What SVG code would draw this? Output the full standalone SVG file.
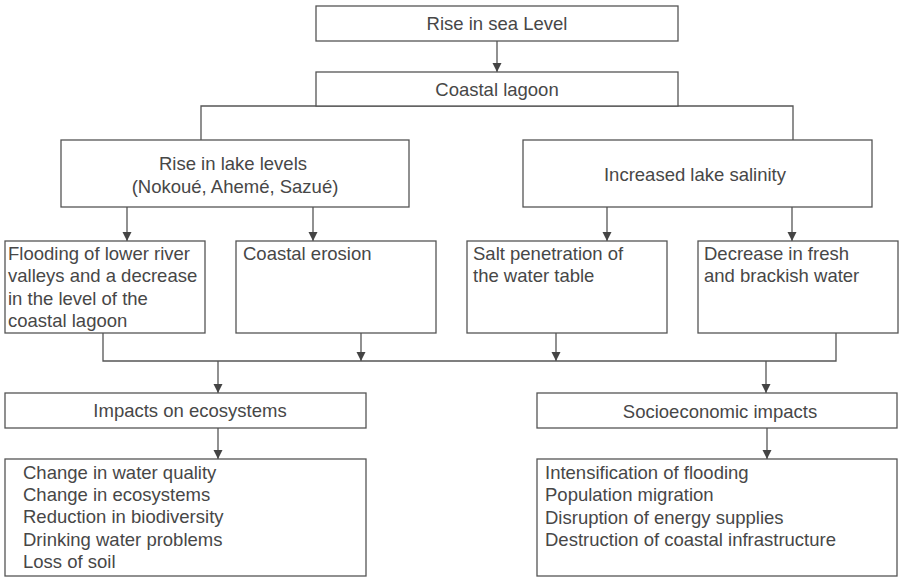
<svg xmlns="http://www.w3.org/2000/svg" width="901" height="577" viewBox="0 0 901 577">
<style>
.box{fill:#fff;stroke:#555;stroke-width:1.3}
.c{fill:none;stroke:#555;stroke-width:1.3}
text{font-family:"Liberation Sans",Arial,sans-serif;font-size:18.5px;fill:#474747}
.m{text-anchor:middle}
</style>
<defs>
<marker id="ah" markerUnits="userSpaceOnUse" markerWidth="10" markerHeight="10" refX="9" refY="4.5" orient="auto">
<path d="M0,0 L9,4.5 L0,9 z" fill="#444"/>
</marker>
</defs>
<rect width="901" height="577" fill="#fff"/>
<g id="connectors">
<line class="c" x1="497" y1="41" x2="497" y2="72" marker-end="url(#ah)"/>
<polyline class="c" points="201,140 201,106 793,106 793,140"/>
<line class="c" x1="127" y1="207" x2="127" y2="241" marker-end="url(#ah)"/>
<line class="c" x1="313" y1="207" x2="313" y2="241" marker-end="url(#ah)"/>
<line class="c" x1="607" y1="207" x2="607" y2="241" marker-end="url(#ah)"/>
<line class="c" x1="792" y1="207" x2="792" y2="241" marker-end="url(#ah)"/>
<polyline class="c" points="103,333 103,361 836,361 836,333"/>
<line class="c" x1="361" y1="333" x2="361" y2="361" marker-end="url(#ah)"/>
<line class="c" x1="556" y1="333" x2="556" y2="361" marker-end="url(#ah)"/>
<line class="c" x1="218" y1="361" x2="218" y2="393" marker-end="url(#ah)"/>
<line class="c" x1="766" y1="361" x2="766" y2="393" marker-end="url(#ah)"/>
<line class="c" x1="218" y1="428" x2="218" y2="459" marker-end="url(#ah)"/>
<line class="c" x1="767" y1="428" x2="767" y2="459" marker-end="url(#ah)"/>
</g>
<g id="sea">
<rect class="box" x="316" y="6" width="362" height="35"/>
<text class="m" x="497" y="30">Rise in sea Level</text>
</g>
<g id="lagoon">
<rect class="box" x="316" y="72" width="362" height="34"/>
<text class="m" x="497" y="96">Coastal lagoon</text>
</g>
<g id="lake">
<rect class="box" x="61" y="140" width="348" height="67"/>
<text class="m" x="233" y="170">Rise in lake levels</text>
<text class="m" x="235" y="193">(Nokoué, Ahemé, Sazué)</text>
</g>
<g id="salinity">
<rect class="box" x="523" y="140" width="349" height="67"/>
<text class="m" x="695" y="181">Increased lake salinity</text>
</g>
<g id="flooding">
<rect class="box" x="5" y="241" width="200" height="92"/>
<text x="8" y="260">Flooding of lower river</text>
<text x="8" y="282">valleys and a decrease</text>
<text x="8" y="305">in the level of the</text>
<text x="8" y="327">coastal lagoon</text>
</g>
<g id="erosion">
<rect class="box" x="236" y="241" width="200" height="92"/>
<text x="243" y="260">Coastal erosion</text>
</g>
<g id="salt">
<rect class="box" x="467" y="241" width="200" height="92"/>
<text x="473" y="260">Salt penetration of</text>
<text x="473" y="282">the water table</text>
</g>
<g id="fresh">
<rect class="box" x="698" y="241" width="200" height="92"/>
<text x="704" y="260">Decrease in fresh</text>
<text x="704" y="282">and brackish water</text>
</g>
<g id="eco">
<rect class="box" x="5" y="393" width="361" height="35"/>
<text class="m" x="190" y="417">Impacts on ecosystems</text>
</g>
<g id="socio">
<rect class="box" x="537" y="393" width="360" height="35"/>
<text class="m" x="720" y="418">Socioeconomic impacts</text>
</g>
<g id="eco-list">
<rect class="box" x="5" y="459" width="361" height="117"/>
<text x="23" y="479">Change in water quality</text>
<text x="23" y="501">Change in ecosystems</text>
<text x="23" y="523">Reduction in biodiversity</text>
<text x="23" y="546">Drinking water problems</text>
<text x="23" y="568">Loss of soil</text>
</g>
<g id="socio-list">
<rect class="box" x="537" y="459" width="360" height="117"/>
<text x="545" y="479">Intensification of flooding</text>
<text x="545" y="501">Population migration</text>
<text x="545" y="524">Disruption of energy supplies</text>
<text x="545" y="546">Destruction of coastal infrastructure</text>
</g>
</svg>
